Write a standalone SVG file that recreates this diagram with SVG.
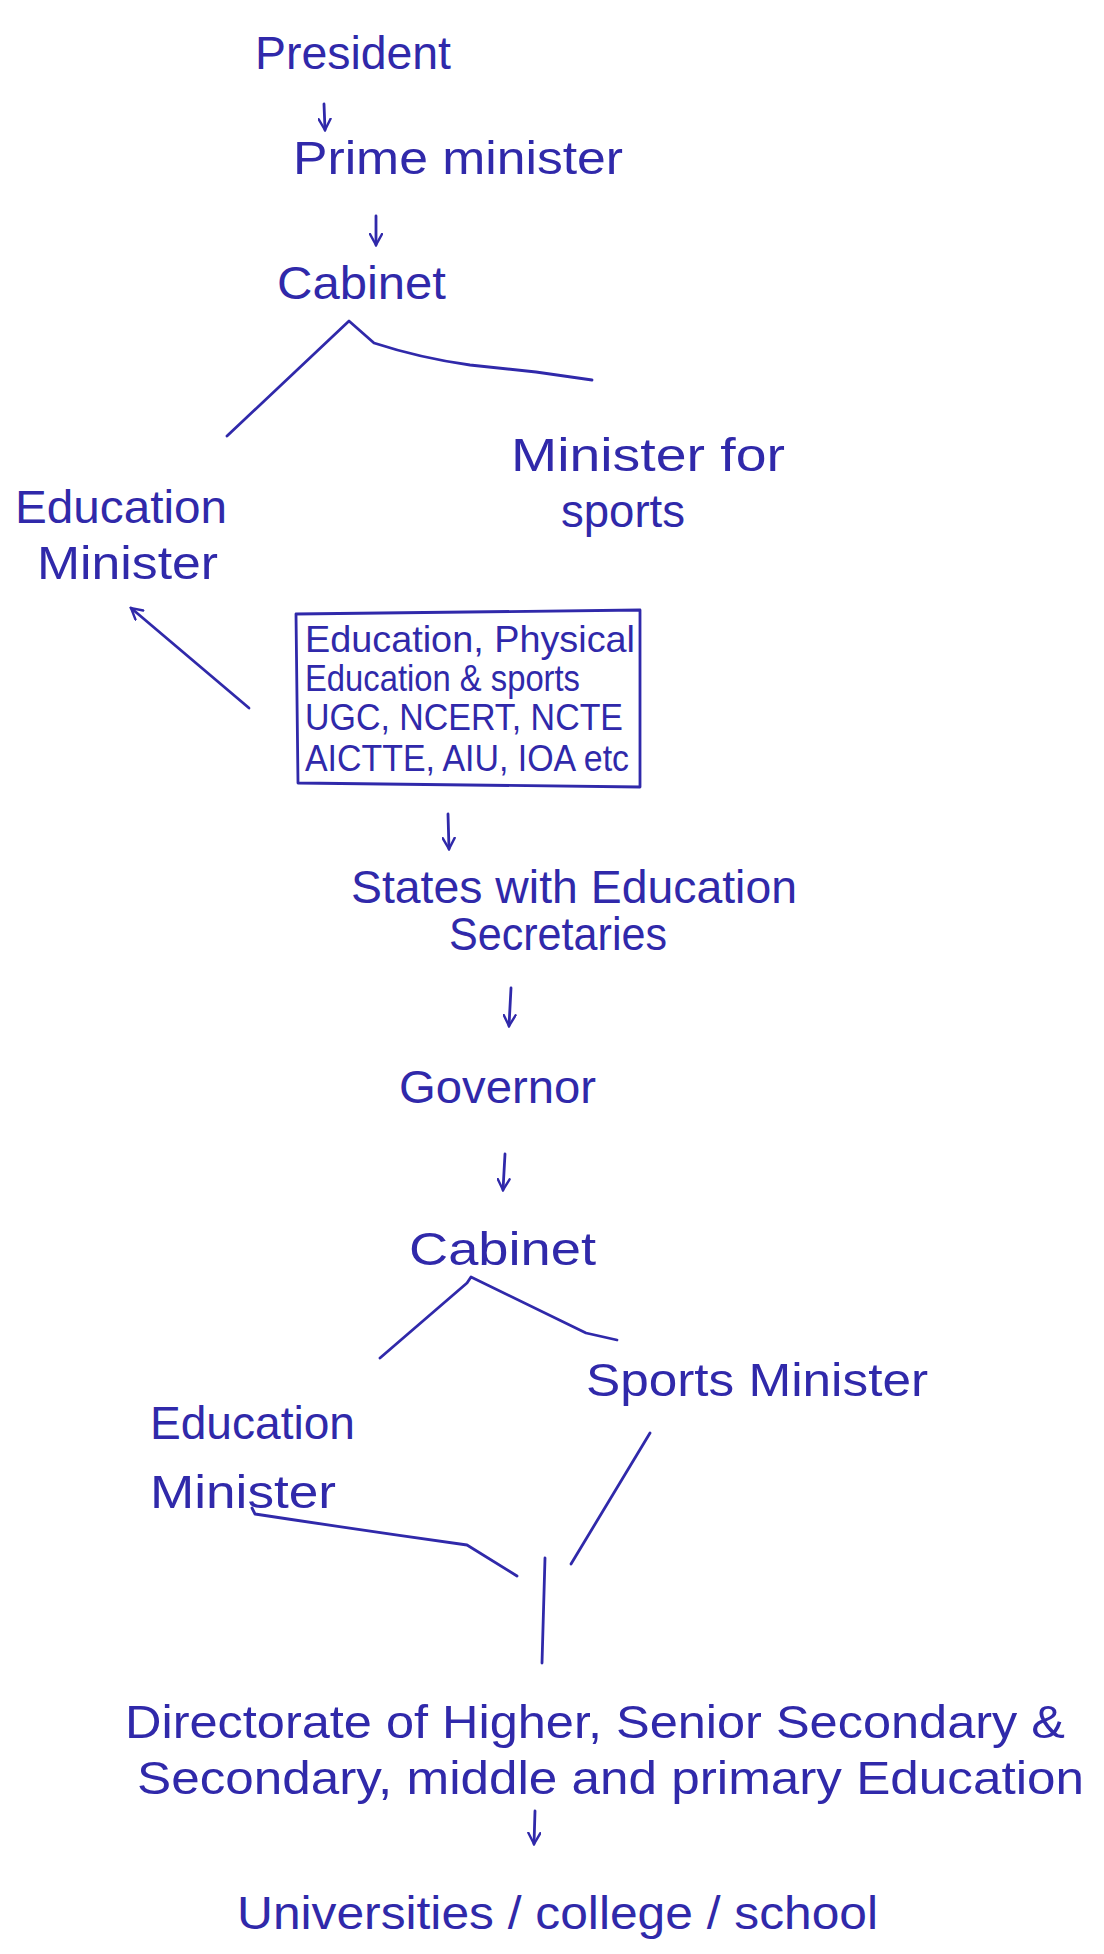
<svg xmlns="http://www.w3.org/2000/svg" width="1104" height="1954" viewBox="0 0 1104 1954">
<style>
.t{font-family:"Liberation Sans","DejaVu Sans",sans-serif;fill:#3029aa;font-size:46px}
.b{font-size:37px}
.c{fill:none;stroke:#3029aa;stroke-width:2.8;stroke-linecap:round;stroke-linejoin:round}
</style>
<defs>
<marker id="ah" viewBox="0 0 14 14" refX="12" refY="7" markerWidth="14" markerHeight="14" markerUnits="userSpaceOnUse" orient="auto">
<path d="M1,1 L12,7 L1,13" fill="none" stroke="#3029aa" stroke-width="2.4" stroke-linecap="round"/>
</marker>
</defs>
<rect width="1104" height="1954" fill="#ffffff"/>
<g id="connectors">
<path class="c" d="M324,104 L325,130" marker-end="url(#ah)"/>
<path class="c" d="M376,216 L376,245" marker-end="url(#ah)"/>
<path class="c" d="M227,436 L349,321 L374,343 Q420,358 470,365 L536,372 L592,380"/>
<path class="c" d="M249,708 L131,608" marker-end="url(#ah)"/>
<path class="c" d="M448,814 L449,849" marker-end="url(#ah)"/>
<path class="c" d="M511,988 L509,1026" marker-end="url(#ah)"/>
<path class="c" d="M505,1154 L503,1190" marker-end="url(#ah)"/>
<path class="c" d="M380,1358 L467,1283 L471,1277 L586,1333 L617,1340"/>
<path class="c" d="M252,1508 L255,1514 Q360,1530 467,1545 L517,1576"/>
<path class="c" d="M650,1433 L571,1564"/>
<path class="c" d="M545,1558 L542,1663"/>
<path class="c" d="M535,1811 L534,1844" marker-end="url(#ah)"/>
</g>
<g id="president"><text class="t" x="255" y="69" textLength="196" lengthAdjust="spacingAndGlyphs">President</text></g>
<g id="prime-minister"><text class="t" x="293" y="174" textLength="330" lengthAdjust="spacingAndGlyphs">Prime minister</text></g>
<g id="cabinet-1"><text class="t" x="277" y="299" textLength="169" lengthAdjust="spacingAndGlyphs">Cabinet</text></g>
<g id="minister-for-sports"><text class="t" x="511" y="471" textLength="274" lengthAdjust="spacingAndGlyphs">Minister for</text><text class="t" x="561" y="527" textLength="124" lengthAdjust="spacingAndGlyphs">sports</text></g>
<g id="education-minister-1"><text class="t" x="15" y="523" textLength="212" lengthAdjust="spacingAndGlyphs">Education</text><text class="t" x="37" y="579" textLength="181" lengthAdjust="spacingAndGlyphs">Minister</text></g>
<g id="bodies-box">
<path class="c" d="M296,614 L640,610 L640,787 L298,783 Z"/>
<text class="t b" x="305" y="652" textLength="330" lengthAdjust="spacingAndGlyphs">Education, Physical</text>
<text class="t b" x="305" y="691" textLength="275" lengthAdjust="spacingAndGlyphs">Education &amp; sports</text>
<text class="t b" x="305" y="730" textLength="318" lengthAdjust="spacingAndGlyphs">UGC, NCERT, NCTE</text>
<text class="t b" x="305" y="771" textLength="324" lengthAdjust="spacingAndGlyphs">AICTTE, AIU, IOA etc</text>
</g>
<g id="states"><text class="t" x="351" y="903" textLength="446" lengthAdjust="spacingAndGlyphs">States with Education</text><text class="t" x="449" y="950" textLength="218" lengthAdjust="spacingAndGlyphs">Secretaries</text></g>
<g id="governor"><text class="t" x="399" y="1103" textLength="197" lengthAdjust="spacingAndGlyphs">Governor</text></g>
<g id="cabinet-2"><text class="t" x="409" y="1265" textLength="187" lengthAdjust="spacingAndGlyphs">Cabinet</text></g>
<g id="education-minister-2"><text class="t" x="150" y="1439" textLength="205" lengthAdjust="spacingAndGlyphs">Education</text><text class="t" x="150" y="1508" textLength="186" lengthAdjust="spacingAndGlyphs">Minister</text></g>
<g id="sports-minister"><text class="t" x="586" y="1396" textLength="342" lengthAdjust="spacingAndGlyphs">Sports Minister</text></g>
<g id="directorate"><text class="t" x="125" y="1738" textLength="940" lengthAdjust="spacingAndGlyphs">Directorate of Higher, Senior Secondary &amp;</text><text class="t" x="137" y="1794" textLength="947" lengthAdjust="spacingAndGlyphs">Secondary, middle and primary Education</text></g>
<g id="institutions"><text class="t" x="237" y="1929" textLength="641" lengthAdjust="spacingAndGlyphs">Universities / college / school</text></g>
</svg>
